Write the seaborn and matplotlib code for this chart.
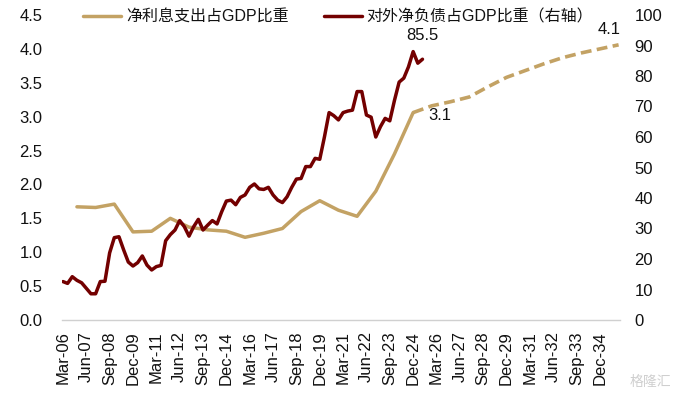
import numpy as np
import pandas as pd
import matplotlib
matplotlib.use("Agg")
import matplotlib.pyplot as plt
import seaborn as sns

# ---------------- data ----------------
tick_labels = ["Mar-06", "Jun-07", "Sep-08", "Dec-09", "Mar-11", "Jun-12", "Sep-13",
               "Dec-14", "Mar-16", "Jun-17", "Sep-18", "Dec-19", "Mar-21", "Jun-22",
               "Sep-23", "Dec-24", "Mar-26", "Jun-27", "Sep-28", "Dec-29", "Mar-31",
               "Jun-32", "Sep-33", "Dec-34"]

# quarterly, Mar-06 .. Jun-25 (right axis, %)
debt_values = [12.6, 12.0, 14.2, 13.0, 12.2, 10.4, 8.6, 8.6, 12.6, 12.7,
               22.0, 27.0, 27.3, 23.0, 19.0, 17.7, 18.8, 21.0, 18.0, 16.4,
               17.5, 17.9, 26.0, 28.0, 29.5, 32.6, 30.6, 27.5, 30.6, 33.0,
               29.5, 31.1, 32.6, 31.5, 35.5, 39.0, 39.3, 37.8, 40.2, 41.0,
               43.5, 44.6, 43.0, 42.8, 43.5, 41.0, 39.3, 38.5, 40.4, 43.5,
               46.2, 46.4, 50.3, 50.3, 53.0, 52.7, 60.0, 68.0, 67.0, 65.6,
               68.0, 68.5, 68.8, 74.9, 74.9, 67.2, 66.5, 60.0, 63.4, 66.1,
               65.3, 72.0, 78.0, 79.3, 83.0, 88.0, 84.2, 85.5]

# annual (December) net interest expense, % of GDP (left axis)
interest_years = [2006, 2007, 2008, 2009, 2010, 2011, 2012, 2013, 2014, 2015,
                  2016, 2017, 2018, 2019, 2020, 2021, 2022, 2023, 2024]
interest_values = [1.67, 1.66, 1.71, 1.30, 1.31, 1.50, 1.37, 1.33, 1.31, 1.22,
                   1.28, 1.35, 1.60, 1.76, 1.62, 1.53, 1.90, 2.45, 3.06]

# projection (dashed)
proj_years = [2024, 2025, 2026, 2027, 2028, 2029, 2030, 2031, 2032, 2033, 2034, 2035]
proj_values = [3.06, 3.16, 3.22, 3.29, 3.44, 3.58, 3.68, 3.78, 3.87, 3.94, 4.00, 4.06]

label_interest = "净利息支出占GDP比重"
label_debt = "对外净负债占GDP比重（右轴）"

# ---------------- frames ----------------
def dec_index(years):
    return [(y - 2006) * 4 + 3 for y in years]

df_debt = pd.DataFrame({"q": np.arange(len(debt_values)), "v": debt_values})
df_int = pd.DataFrame({"q": dec_index(interest_years), "v": interest_values})
df_proj = pd.DataFrame({"q": dec_index(proj_years), "v": proj_values})

# ---------------- style ----------------
sns.set_theme(style="white")
plt.rcParams["font.family"] = ["Liberation Sans", "Noto Sans CJK SC", "DejaVu Sans"]
plt.rcParams["font.size"] = 12

GOLD = "#C3A264"
RED = "#730000"
TXT = "#111111"
FS = 12

fig = plt.figure(figsize=(6.75, 3.95), dpi=100)
ax = fig.add_axes([62 / 675, 1 - 320 / 395, (620 - 62) / 675, (320 - 15) / 395])
ax2 = ax.twinx()

sns.lineplot(data=df_int, x="q", y="v", ax=ax, color=GOLD, linewidth=2.5,
             errorbar=None, label=label_interest, legend=False)
sns.lineplot(data=df_proj, x="q", y="v", ax=ax, color=GOLD, linewidth=2.6,
             errorbar=None, linestyle=(0, (3.0, 1.5)), legend=False)
sns.lineplot(data=df_debt, x="q", y="v", ax=ax2, color=RED, linewidth=2.5,
             errorbar=None, label=label_debt, legend=False)

# axes
ax.set_xlim(-0.2, 119.3)
ax.set_ylim(0, 4.5)
ax2.set_ylim(0, 100)
ax.set_yticks(np.arange(0, 4.51, 0.5))
ax.set_yticklabels([f"{v:.1f}" for v in np.arange(0, 4.51, 0.5)])
ax2.set_yticks(np.arange(0, 101, 10))
ax2.set_yticklabels([f"{v:d}" for v in range(0, 101, 10)])
ax.set_xticks(np.arange(0, 116, 5))
ax.set_xticklabels(tick_labels, rotation=90)
ax.set_xlabel("")
ax.set_ylabel("")
ax2.set_ylabel("")

for a in (ax, ax2):
    for s in a.spines.values():
        s.set_visible(False)
ax.spines["bottom"].set_visible(True)
ax.spines["bottom"].set_color("#d0d0d0")
ax.spines["bottom"].set_linewidth(1.0)

ax.tick_params(axis="y", length=0, pad=14, labelsize=FS, labelcolor=TXT)
ax2.tick_params(axis="y", length=0, pad=10.5, labelsize=FS, labelcolor=TXT)
ax.tick_params(axis="x", length=0, pad=8, labelsize=FS, labelcolor=TXT)
ax.grid(False)
ax2.grid(False)

# annotations
ax2.annotate("85.5", xy=(df_debt["q"].iloc[-1], debt_values[-1]), xytext=(0, 17),
             textcoords="offset points", ha="center", va="center",
             fontsize=FS, color=TXT)
ax.annotate("3.1", xy=(df_proj["q"].iloc[0], proj_values[0]), xytext=(19, -2),
            textcoords="offset points", ha="center", va="center",
            fontsize=FS, color=TXT)
ax.annotate("4.1", xy=(df_proj["q"].iloc[-1], proj_values[-1]), xytext=(-7, 11),
            textcoords="offset points", ha="center", va="center",
            fontsize=FS, color=TXT, annotation_clip=False)

# legend
h1, l1 = ax.get_legend_handles_labels()
h2, l2 = ax2.get_legend_handles_labels()
leg = ax2.legend(h1 + h2, l1 + l2, loc="center", bbox_to_anchor=(338 / 675, 1 - 17 / 395),
                 bbox_transform=fig.transFigure, ncol=2, frameon=False, fontsize=11.5,
                 handlelength=2.4, handletextpad=0.3, columnspacing=2.2)
for t in leg.get_texts():
    t.set_color(TXT)

fig.text(0.995, 0.015, "格隆汇", ha="right", va="bottom", fontsize=10,
         color="#cfcfcf", family=["Noto Sans CJK SC", "DejaVu Sans"])

fig.savefig("out.png", dpi=100)
